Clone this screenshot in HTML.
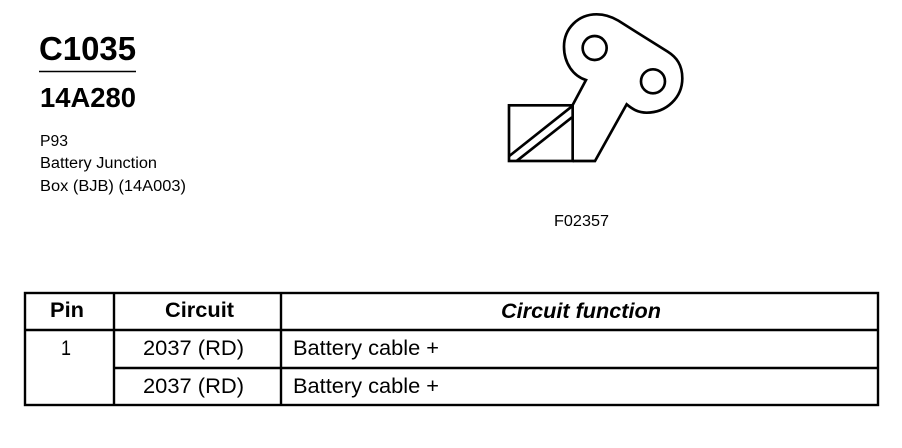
<!DOCTYPE html>
<html>
<head>
<meta charset="utf-8">
<style>
html,body{margin:0;padding:0;background:#fff}
svg{display:block}
text{font-family:"Liberation Sans",Arial,sans-serif;fill:#000}
</style>
</head>
<body>
<svg width="902" height="448" viewBox="0 0 902 448" xmlns="http://www.w3.org/2000/svg">
<rect width="902" height="448" fill="#fff"/>
<text x="39" y="60" font-size="33" font-weight="700" textLength="97" lengthAdjust="spacingAndGlyphs">C1035</text>
<line x1="39" y1="71.5" x2="136" y2="71.5" stroke="#000" stroke-width="1.4"/>
<text x="40" y="107" font-size="27.5" font-weight="700" textLength="96" lengthAdjust="spacingAndGlyphs">14A280</text>
<text x="40" y="146" font-size="15.5" textLength="28" lengthAdjust="spacingAndGlyphs">P93</text>
<text x="40" y="168" font-size="15.5" textLength="117" lengthAdjust="spacingAndGlyphs">Battery Junction</text>
<text x="40" y="191" font-size="15.5" textLength="146" lengthAdjust="spacingAndGlyphs">Box (BJB) (14A003)</text>
<g transform="translate(490 0) scale(.3333)" fill="none" stroke="#000" stroke-width="8" stroke-linejoin="miter">
<path d="M248 315 L288 240 C250 228 222 190 222 140 C222 85 265 43 320 43 C345 43 365 50 385 62 L533 155 C560 172 577 195 577 235 C577 292 530 338 470 338 C445 338 428 328 410 313 L315 483 L248 483"/>
<circle cx="314" cy="144" r="36"/>
<circle cx="489" cy="244" r="36"/>
<rect x="57" y="316" width="191" height="167"/>
<path d="M58 468 L246 319"/>
<path d="M80 483 L246 352"/>
</g>
<text x="554" y="226" font-size="16" textLength="55" lengthAdjust="spacingAndGlyphs">F02357</text>
<g fill="none" stroke="#000" stroke-width="2.4">
<rect x="25" y="293" width="853" height="112"/>
<line x1="25" y1="330" x2="878" y2="330"/>
<line x1="114" y1="368" x2="878" y2="368"/>
<line x1="114" y1="293" x2="114" y2="405"/>
<line x1="281" y1="293" x2="281" y2="405"/>
</g>
<text x="50" y="317" font-size="21.5" font-weight="700" textLength="34" lengthAdjust="spacingAndGlyphs">Pin</text>
<text x="165" y="317" font-size="21.5" font-weight="700" textLength="69" lengthAdjust="spacingAndGlyphs">Circuit</text>
<text x="501" y="318" font-size="21" font-weight="700" font-style="italic" textLength="160" lengthAdjust="spacingAndGlyphs">Circuit function</text>
<text x="61" y="355" font-size="21" textLength="10" lengthAdjust="spacingAndGlyphs">1</text>
<text x="143" y="355" font-size="21" textLength="101" lengthAdjust="spacingAndGlyphs">2037 (RD)</text>
<text x="143" y="393" font-size="21" textLength="101" lengthAdjust="spacingAndGlyphs">2037 (RD)</text>
<text x="293" y="355" font-size="21" textLength="146" lengthAdjust="spacingAndGlyphs">Battery cable +</text>
<text x="293" y="393" font-size="21" textLength="146" lengthAdjust="spacingAndGlyphs">Battery cable +</text>
</svg>
</body>
</html>
